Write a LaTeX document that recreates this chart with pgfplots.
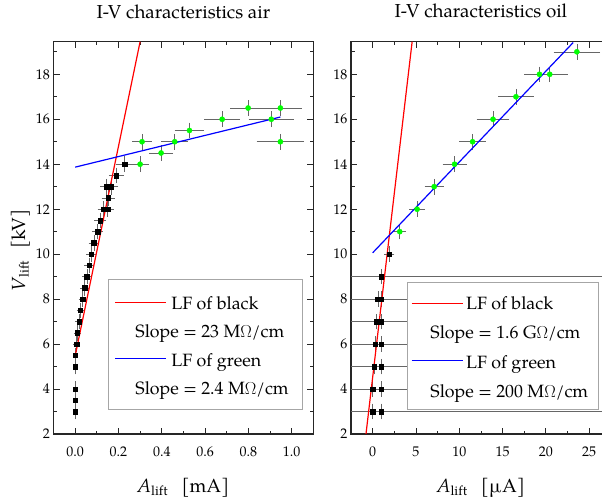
\documentclass[border=0pt]{standalone}
\usepackage{fontspec}
\setmainfont{TeX Gyre Pagella}
\usepackage{amsmath}
\usepackage{pgfplots}
\pgfplotsset{compat=1.18}
\definecolor{fitred}{RGB}{255,0,0}
\definecolor{fitblue}{RGB}{0,0,255}

\pgfplotstableread{
x      y     ex     ey
0      3     0      0.2
0      3.5   0      0.2
0      4     0      0.2
0      5     0      0.2
0      5.5   0      0.2
0.006  6     0.001  0.2
0.010  6.5   0.001  0.2
0.018  7     0.002  0.2
0.024  7.5   0.002  0.2
0.034  8     0.003  0.2
0.043  8.5   0.004  0.2
0.054  9     0.005  0.2
0.064  9.5   0.006  0.2
0.075  10    0.008  0.2
0.087  10.5  0.009  0.2
0.103  11    0.010  0.2
0.115  11.5  0.012  0.2
0.132  12    0.013  0.2
0.149  12    0.015  0.2
0.152  12.5  0.015  0.2
0.146  13    0.015  0.2
0.166  13    0.017  0.2
0.190  13.5  0.019  0.2
0.228  14    0.022  0.2
}\airblack

\pgfplotstableread{
x      y     ex     ey
0.300  14    0.027  0.2
0.309  15    0.030  0.2
0.397  14.5  0.040  0.2
0.460  15    0.046  0.2
0.528  15.5  0.053  0.2
0.679  16    0.068  0.2
0.799  16.5  0.067  0.2
0.948  16.5  0.083  0.2
0.906  16    0.090  0.2
0.948  15    0.094  0.2
}\airgreen

\pgfplotstableread{
x      y     exp    exm    ey
0      3     60     60     0.2
1.0    3     60     60     0.2
0      4     3.98   60     0.2
1.0    4     2.98   60     0.2
0.2    5     3.78   60     0.2
1.0    5     2.98   60     0.2
0.3    6     3.68   60     0.2
1.0    6     2.98   60     0.2
0.45   7     3.53   60     0.2
1.0    7     2.98   60     0.2
0.6    8     3.38   60     0.2
0.97   8     3.01   60     0.2
1.0    9     60     60     0.2
1.93   10    0.2    0.2    0.2
}\oilblack

\pgfplotstableread{
x      y     ex     ey
3.13   11    0.35   0.2
5.13   12    0.55   0.2
7.10   13    0.73   0.2
9.46   14    1.00   0.2
11.54  15    1.16   0.2
13.90  16    1.50   0.2
16.55  17    1.65   0.2
19.26  18    1.40   0.2
20.45  18    1.70   0.2
23.58  19    2.30   0.2
}\oilgreen

\pgfplotsset{
  common/.style={
    scale only axis, width=259.8pt, height=392.3pt,
    ymin=2, ymax=19.45,
    ytick={2,4,...,18}, minor ytick={3,5,...,19},
    tick align=inside,
    major tick length=6pt, minor tick length=3.5pt,
    axis line style={line width=1.1pt, black!85},
    every tick/.style={black!85, line width=0.8pt},
    /pgf/number format/assume math mode=true,
    tick label style={font=\fontsize{14}{16}\selectfont},
    xticklabel style={anchor=base, yshift=-22pt},
    title style={at={(0.5,1)}, anchor=base, yshift=17.7pt, font=\fontsize{18.8}{22}\selectfont},
    label style={font=\fontsize{19}{22}\selectfont},
    xlabel style={at={(0.5,0)}, anchor=base, yshift=-58pt},
    error bars/error bar style={line width=0.6pt, black!60},
    error bars/error mark options={black!60, line width=0.6pt, mark size=3.3pt},
  },
  pts/.style={only marks,
    error bars/x dir=both, error bars/x explicit,
    error bars/y dir=both, error bars/y explicit},
}
\tikzset{legbox/.style={draw=gray!70, line width=0.9pt, fill=white,
  anchor=north west, inner ysep=0pt, align=left}}

\begin{document}
\begin{tikzpicture}
% ---------------- air ----------------
\begin{axis}[common,
  at={(0pt,0pt)}, anchor=south west,
  xmin=-0.1, xmax=1.1,
  xtick={0,0.2,0.4,0.6,0.8,1.0}, minor xtick={0.1,0.3,0.5,0.7,0.9},
  xticklabel style={/pgf/number format/.cd, fixed, fixed zerofill, precision=1},
  yticklabel={},
  title={I-V characteristics air},
  xlabel={\textit{A}$_{\text{lift}}$\hspace{0.7em}[mA]},
  ylabel={\textit{V}$_{\text{lift}}$\hspace{0.6em}[kV]},
  ylabel style={at={(axis description cs:-0.1097,0.468)}, anchor=base},
]
\addplot[pts, black, mark=square*, mark size=2.3pt]
  table[x=x, y=y, x error=ex, y error=ey] {\airblack};
\addplot[pts, green, mark=*, mark size=2.6pt]
  table[x=x, y=y, x error=ex, y error=ey] {\airgreen};
\addplot[fitred, line width=1.2pt] coordinates {(0,5.47) (0.30,19.45)};
\addplot[fitblue, line width=1.2pt] coordinates {(0,13.87) (0.948,16.1)};
\end{axis}
% ---------------- oil ----------------
\begin{axis}[common,
  at={(297.5pt,0pt)}, anchor=south west,
  xmin=-2.5, xmax=27.5,
  xtick={0,5,...,25}, minor xtick={2.5,7.5,...,27.5},
  title={I-V characteristics oil},
  xlabel={\textit{A}$_{\text{lift}}$\hspace{0.7em}[µA]},
]
\addplot[pts, black, mark=square*, mark size=2.3pt]
  table[x=x, y=y, x error plus=exp, x error minus=exm, y error=ey] {\oilblack};
\addplot[pts, green, mark=*, mark size=2.6pt]
  table[x=x, y=y, x error=ex, y error=ey] {\oilgreen};
\addplot[fitred, line width=1.2pt] coordinates {(-0.77,2) (4.56,19.45)};
\addplot[fitblue, line width=1.2pt] coordinates {(0,10.06) (23.15,19.41)};
\end{axis}
% ---------------- legends ----------------
\node[legbox, inner xsep=6.7pt, font=\fontsize{17.8}{28.4}\selectfont]
  at (54.8pt,154.7pt) {%
\makebox[180pt][l]{\rule{0pt}{29.7pt}\hspace{56pt}LF of black}\\
\makebox[180pt][l]{\hspace{20pt}Slope = 23 M$\Omega$/cm}\\
\makebox[180pt][l]{\hspace{56pt}LF of green}\\
\makebox[180pt][l]{\hspace{20pt}Slope = 2.4 M$\Omega$/cm\rule[-14.3pt]{0pt}{14.3pt}}};
\draw[fitred, line width=1.2pt] (61.5pt,131.7pt) -- (112.5pt,131.7pt);
\draw[fitblue, line width=1.2pt] (61.5pt,75.7pt) -- (112.5pt,75.7pt);
\node[legbox, inner xsep=5pt, font=\fontsize{17.8}{29.3}\selectfont]
  at (353.2pt,152.3pt) {%
\makebox[181.6pt][l]{\rule{0pt}{27.3pt}\hspace{54pt}LF of black}\\
\makebox[181.6pt][l]{\hspace{18.3pt}Slope = 1.6 G$\Omega$/cm}\\
\makebox[181.6pt][l]{\hspace{54pt}LF of green}\\
\makebox[181.6pt][l]{\hspace{18.3pt}Slope = 200 M$\Omega$/cm\rule[-12.3pt]{0pt}{12.3pt}}};
\draw[fitred, line width=1.2pt] (358.2pt,130.7pt) -- (409.2pt,130.7pt);
\draw[fitblue, line width=1.2pt] (358.2pt,73.3pt) -- (409.2pt,73.3pt);
\pgfresetboundingbox
\useasboundingbox (-53.5pt,-67pt) rectangle (548.5pt,434pt);
\end{tikzpicture}
\end{document}
